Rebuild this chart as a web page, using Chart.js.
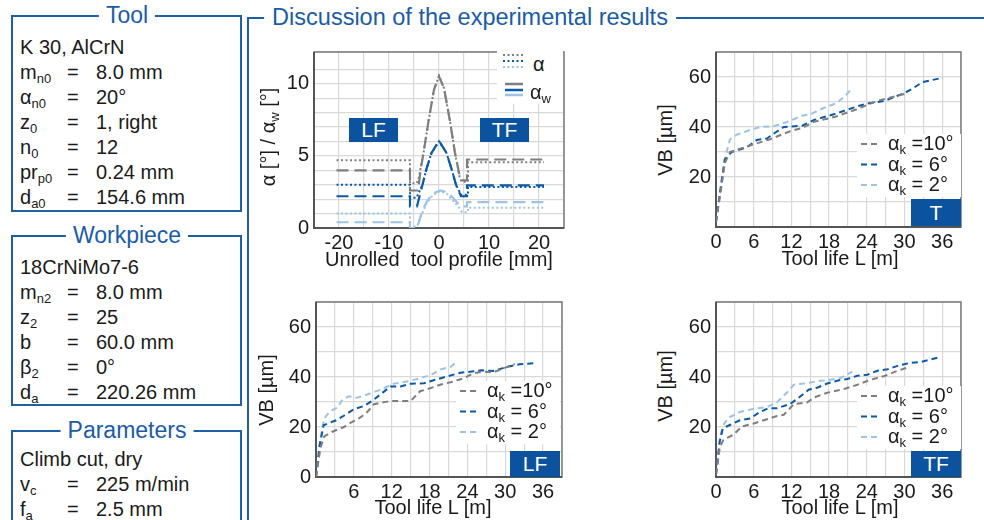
<!DOCTYPE html>
<html>
<head>
<meta charset="utf-8">
<script src="https://cdn.jsdelivr.net/npm/chart.js@4.4.0/dist/chart.umd.min.js"></script>
<style>
  body { margin:0; width:984px; height:520px; position:relative; overflow:hidden; background:#fff;
         font-family:"Liberation Sans", Arial, sans-serif; color:#1a1a1a; }
  canvas { position:absolute; }
  .box { position:absolute; border:2px solid #1f5fa8; box-sizing:border-box; }
  .btitle { position:absolute; background:#fff; color:#1b5ca8; font-size:23px; line-height:24px;
            padding:0 7px; transform:translate(-50%,-50%); white-space:nowrap; }
  .row { position:absolute; font-size:20px; line-height:24px; white-space:nowrap; }
  sub { font-size:13px; vertical-align:-4px; line-height:0; }
  .badge { position:absolute; background:#0b539e; color:#fff; font-size:21px; display:flex;
           align-items:center; justify-content:center; }
  .atitle { position:absolute; font-size:20px; line-height:22px; white-space:nowrap; transform:translate(-50%,-50%); }
  .ytitle { transform:translate(-50%,-50%) rotate(-90deg); }
  .leg { position:absolute; background:#fff; }
  .leg svg { position:absolute; left:0; top:0; }
  .leg span { position:absolute; font-size:20px; line-height:20px; white-space:nowrap; }
</style>
</head>
<body>

<!-- left panel -->
<div class="box" style="left:11px;top:15px;width:231px;height:197px"></div>
<div class="btitle" style="left:127px;top:15px">Tool</div>
<div class="box" style="left:11px;top:235px;width:231px;height:171px"></div>
<div class="btitle" style="left:127px;top:235px">Workpiece</div>
<div class="box" style="left:11px;top:430px;width:231px;height:120px"></div>
<div class="btitle" style="left:127px;top:430px">Parameters</div>
<div id="panel"></div>

<!-- discussion frame -->
<div class="box" style="left:247px;top:17px;width:760px;height:540px"></div>
<div class="btitle" style="left:470px;top:17px;font-size:23.5px;padding:0 8px">Discussion of the experimental results</div>

<canvas id="cA" width="310" height="225" style="left:260px;top:35px"></canvas>
<canvas id="cB" width="294" height="225" style="left:676px;top:35px"></canvas>
<canvas id="cC" width="310" height="225" style="left:262px;top:285px"></canvas>
<canvas id="cD" width="294" height="225" style="left:676px;top:285px"></canvas>

<div class="atitle ytitle" style="left:268px;top:137px">α [°] / α<sub>w</sub> [°]</div>
<div class="atitle" style="left:439px;top:259px">Unrolled&nbsp; tool profile [mm]</div>
<div class="atitle ytitle" style="left:665px;top:140px">VB [µm]</div>
<div class="atitle" style="left:840px;top:258px">Tool life L [m]</div>
<div class="atitle ytitle" style="left:266px;top:390px">VB [µm]</div>
<div class="atitle" style="left:433px;top:507px">Tool life L [m]</div>
<div class="atitle ytitle" style="left:665px;top:386px">VB [µm]</div>
<div class="atitle" style="left:840px;top:507px">Tool life L [m]</div>

<div class="badge" style="left:349px;top:118px;width:49px;height:24px">LF</div>
<div class="badge" style="left:480px;top:118px;width:49px;height:24px">TF</div>
<div class="badge" style="left:911px;top:199px;width:50px;height:27px">T</div>
<div class="badge" style="left:510px;top:451px;width:50px;height:26px">LF</div>
<div class="badge" style="left:911px;top:451px;width:50px;height:26px">TF</div>

<div id="legA" class="leg" style="left:497px;top:46px;width:66px;height:58px"></div>

<script>
// ---- left panel text ----
const toolRows = [['K 30, AlCrN'], ['m<sub>n0</sub>', '8.0 mm'], ['α<sub>n0</sub>', '20°'], ['z<sub>0</sub>', '1, right'],
                  ['n<sub>0</sub>', '12'], ['pr<sub>p0</sub>', '0.24 mm'], ['d<sub>a0</sub>', '154.6 mm']];
const workRows = [['18CrNiMo7-6'], ['m<sub>n2</sub>', '8.0 mm'], ['z<sub>2</sub>', '25'], ['b', '60.0 mm'],
                  ['β<sub>2</sub>', '0°'], ['d<sub>a</sub>', '220.26 mm']];
const paramRows = [['Climb cut, dry'], ['v<sub>c</sub>', '225 m/min'], ['f<sub>a</sub>', '2.5 mm']];

// ---- alpha along the unrolled tool profile ----
const aGrayX  = [-20.5, -5.8, -5.8, -4.5, -4.1, -3.1, -2.1, -1, 0, 1, 2.2, 3.2, 4.2, 4.6, 5.8, 5.8, 21];
const aGrayY  = [4.7, 4.7, 3.1, 3.1, 3.4, 5.2, 7.4, 9.6, 10.55, 9.7, 7.4, 5.2, 3.4, 3.2, 3.2, 4.55, 4.55];
const awGrayX = [-20.5, -5.8, -5.8, -4.2, -3.6, -3.1, -2.1, -1, 0, 1, 2.2, 3.2, 4.2, 4.6, 5.6, 5.6, 21];
const awGrayY = [4.0, 4.0, 2.6, 2.6, 4.2, 5.2, 7.4, 9.6, 10.5, 9.7, 7.4, 5.2, 3.5, 3.3, 3.3, 4.75, 4.75];
const aBlueX  = [-20.5, -5.8, -5.8, -4.5, -3.3, -2.5, -1.5, 0, 1.5, 2.5, 3.4, 4.4, 5.8, 5.8, 21];
const aBlueY  = [3.0, 3.0, 2.1, 2.1, 3.0, 4.1, 5.2, 6.0, 5.2, 4.1, 3.0, 2.3, 2.3, 2.85, 2.85];
const awBlueX = [-20.5, -5.8, -5.8, -4.4, -3.3, -2.5, -1.5, 0, 1.5, 2.5, 3.4, 4.4, 5.6, 5.6, 21];
const awBlueY = [2.2, 2.2, 1.5, 1.5, 3.0, 4.1, 5.2, 6.05, 5.2, 4.1, 3.0, 2.2, 2.2, 2.95, 2.95];
const aLightX  = [-20.5, -5.8, -5.8, -4.4, -3.5, -2.5, -1.2, 0.2, 1.5, 2.8, 3.8, 4.6, 5.8, 5.8, 21];
const aLightY  = [1.0, 1.0, 0.1, 0.1, 0.9, 1.7, 2.3, 2.55, 2.4, 1.9, 1.5, 1.1, 1.1, 1.4, 1.4];
const awLightX = [-20.5, -5.8, -5.8, -4.4, -3.5, -2.5, -1.2, 0.3, 1.5, 2.8, 3.8, 4.6, 5.6, 5.6, 21];
const awLightY = [0.4, 0.4, 0.0, 0.0, 1.0, 1.8, 2.4, 2.6, 2.5, 2.1, 1.7, 1.5, 1.5, 1.8, 1.8];
const profileTicks = [-20, -10, 0, 10, 20];
const alphaTicks = [0, 5, 10];

// ---- flank wear VB over tool life, T ----
const tX10 = [0, 0.9, 1.4, 2.2, 5.4, 8.6, 11.8, 13.7, 15.6, 19.0, 22.5, 25.7, 30.5];
const tY10 = [2, 17, 25.5, 30, 32.6, 35.1, 38.3, 39.6, 42.1, 44.1, 47.2, 50.5, 53.5];
const tX6  = [0, 0.8, 1.4, 2.5, 4.9, 6.5, 8.1, 9.4, 10.8, 13.7, 15.6, 19.0, 22.8, 24.1, 26.8, 30.0, 31.0, 32.9, 36.1];
const tY6  = [2, 17, 27, 30, 31.9, 34.8, 35.4, 37.7, 40, 40.5, 42.8, 45.3, 48.5, 49.4, 50.4, 53.6, 54.9, 58, 59.7];
const tX2  = [0, 0.9, 1.4, 2.2, 3.3, 5.4, 7.0, 9.2, 11.3, 13.7, 15.1, 17.2, 19.3, 20.4, 21.7];
const tY2  = [2, 17, 27, 35, 36.9, 38.8, 40, 40.3, 42, 44.5, 45.2, 47.7, 49.6, 52.2, 55.4];

// ---- LF ----
const lfX10 = [0, 0.7, 1.3, 2.6, 4.4, 5.7, 7.1, 8.1, 9.2, 10.2, 11.8, 15.0, 16.5, 18.2, 19.7, 21.8, 23.4, 25.0, 26.5, 28.1, 29.7, 31.5];
const lfY10 = [0, 11.6, 16.2, 18.1, 20.0, 22.0, 23.9, 25.9, 29.1, 29.7, 30.4, 30.4, 34.3, 35.6, 36.9, 38.2, 39.5, 41.5, 42.1, 41.9, 43.4, 45.2];
const lfX6  = [0, 0.6, 1.2, 1.8, 3.1, 4.4, 6.0, 7.6, 8.9, 10.2, 11.8, 13.4, 15.0, 17.1, 19.2, 21.0, 22.9, 24.4, 26.3, 28.1, 30.2, 32.3, 34.7];
const lfY6  = [0, 12.9, 20.7, 21.3, 22.6, 24.5, 27.1, 28.4, 30.4, 33.0, 36.2, 36.2, 37.3, 37.5, 39.1, 40.4, 41.7, 42.1, 42.7, 42.4, 44.0, 45.1, 45.6];
const lfX2  = [0, 0.7, 1.3, 2.1, 3.4, 4.2, 5.2, 6.5, 8.1, 10.2, 12.3, 14.4, 16.5, 18.2, 19.7, 21.3, 22.3];
const lfY2  = [0, 15.5, 23.3, 26.1, 27.8, 31.0, 32.3, 31.7, 33.0, 34.9, 37.3, 38.2, 39.5, 40.8, 43.0, 44.0, 46.0];

// ---- TF ----
const tfX10 = [0, 0.6, 1.2, 2.8, 4.1, 6.0, 7.6, 9.7, 10.8, 12.4, 14.5, 15.6, 17.7, 20.4, 22.5, 24.6, 26.8, 28.9, 30.8];
const tfY10 = [1, 11.8, 15.0, 16.9, 20.2, 21.4, 22.7, 24.4, 24.9, 29.2, 29.8, 31.8, 33.7, 35.2, 36.9, 38.9, 40.4, 42.5, 44.0];
const tfX6  = [0, 0.6, 1.1, 2.2, 3.8, 5.4, 7.0, 8.3, 9.7, 11.8, 12.9, 14.8, 16.1, 17.7, 19.6, 20.9, 22.5, 24.1, 25.7, 27.3, 29.2, 30.8, 32.6, 35.6];
const tfY6  = [1, 14.4, 19.5, 20.8, 22.7, 23.4, 26.0, 27.5, 27.5, 29.2, 31.2, 35.0, 35.7, 37.4, 38.7, 39.2, 40.5, 40.9, 42.5, 43.1, 44.7, 45.6, 46.0, 47.9];
const tfX2  = [0, 0.7, 1.3, 2.2, 3.8, 6.0, 8.1, 9.7, 11.3, 12.4, 14.0, 16.1, 18.2, 19.8, 21.7];
const tfY2  = [1, 16.9, 21.4, 24.0, 26.0, 27.3, 27.9, 29.9, 33.8, 36.9, 37.4, 38.3, 38.9, 39.6, 42.1];

const vbLabels = ['α_k =10°', 'α_k = 6°', 'α_k = 2°'];
const lifeTicks = [0, 6, 12, 18, 24, 30, 36];
const vbTicks = [20, 40, 60];

const colors = ['#7f7f7f', '#0b5aa8', '#9dc3e6'];
const tickFont = { size: 20, family: 'Liberation Sans' };

// left panel rows
const panel = document.getElementById('panel');
function addRows(rows, firstY) {
  rows.forEach((r, i) => {
    const y = firstY + i * 25 - 12;
    if (r.length === 1) {
      panel.insertAdjacentHTML('beforeend', `<div class="row" style="left:20px;top:${y}px">${r[0]}</div>`);
    } else {
      panel.insertAdjacentHTML('beforeend',
        `<div class="row" style="left:20px;top:${y}px">${r[0]}</div>` +
        `<div class="row" style="left:67px;top:${y}px">=</div>` +
        `<div class="row" style="left:96px;top:${y}px">${r[1]}</div>`);
    }
  });
}
addRows(toolRows, 47);
addRows(workRows, 267);
addRows(paramRows, 459);

const pts = (xs, ys) => xs.map((x, i) => ({ x: x, y: ys[i] }));

const frame = {
  id: 'frame',
  beforeDatasetsDraw(chart) {
    const { ctx, chartArea: a } = chart;
    ctx.save();
    ctx.strokeStyle = '#7a7a7a';
    ctx.lineWidth = 1.5;
    ctx.strokeRect(a.left, a.top, a.right - a.left, a.bottom - a.top);
    ctx.strokeStyle = '#555';
    ctx.lineWidth = 2;
    ctx.beginPath();
    ctx.moveTo(a.left, a.top);
    ctx.lineTo(a.left, a.bottom);
    ctx.lineTo(a.right, a.bottom);
    ctx.stroke();
    ctx.restore();
  }
};

function axes(xMin, xMax, xStep, xLabels, yMax, yStep, yLabels, yWidth, xHeight) {
  return {
    x: { type: 'linear', min: xMin, max: xMax,
         afterFit: s => { s.height = xHeight; },
         grid: { color: '#d9d9d9', lineWidth: 1.2, drawTicks: false },
         border: { display: false },
         ticks: { stepSize: xStep, autoSkip: false, maxRotation: 0, padding: 3, color: '#1a1a1a', font: tickFont,
                  callback: v => xLabels.includes(v) ? v : '' } },
    y: { min: 0, max: yMax,
         afterFit: s => { s.width = yWidth; },
         grid: { color: '#d9d9d9', lineWidth: 1.2, drawTicks: false },
         border: { display: false },
         ticks: { stepSize: yStep, autoSkip: false, padding: 5, color: '#1a1a1a', font: tickFont,
                  callback: v => yLabels.includes(v) ? v : '' } }
  };
}

const baseOpts = { responsive: false, animation: false, devicePixelRatio: 1,
  plugins: { legend: { display: false }, tooltip: { enabled: false } } };

// chart A: clearance angle along the profile
const dotted = (xs, ys, c) => ({ data: pts(xs, ys), borderColor: c, borderWidth: 2, borderDash: [2, 2.5], pointRadius: 0, tension: 0 });
const dashed = (xs, ys, c) => ({ data: pts(xs, ys), borderColor: c, borderWidth: 2.2, borderDash: [12, 6], pointRadius: 0, tension: 0 });
new Chart(document.getElementById('cA'), {
  type: 'line',
  data: { datasets: [
    dashed(awGrayX, awGrayY, colors[0]), dashed(awBlueX, awBlueY, colors[1]), dashed(awLightX, awLightY, colors[2]),
    dotted(aGrayX, aGrayY, colors[0]), dotted(aBlueX, aBlueY, colors[1]), dotted(aLightX, aLightY, colors[2])
  ] },
  options: Object.assign({}, baseOpts, {
    layout: { padding: { top: 10, right: 6, left: 0, bottom: 0 } },
    scales: axes(-25, 25, 5, profileTicks, 12.2, 1, alphaTicks, 54, 32)
  }),
  plugins: [frame]
});

function vbChart(id, sets, xLabels, yLabels, yWidth, padRight) {
  new Chart(document.getElementById(id), {
    type: 'line',
    data: { datasets: sets.map((s, i) => ({
      data: pts(s[0], s[1]), borderColor: colors[i], borderWidth: 2, borderDash: [6, 4],
      pointRadius: 0, tension: 0 })) },
    options: Object.assign({}, baseOpts, {
      layout: { padding: { top: 10, right: padRight, left: 0, bottom: 0 } },
      scales: axes(0, 39, 3, xLabels, 70, 10, yLabels, yWidth, 33)
    }),
    plugins: [frame]
  });
}
vbChart('cB', [[tX10, tY10], [tX6, tY6], [tX2, tY2]], lifeTicks, vbTicks, 40, 9);
vbChart('cC', [[lfX10, lfY10], [lfX6, lfY6], [lfX2, lfY2]], lifeTicks.slice(1), [0].concat(vbTicks), 54, 10);
vbChart('cD', [[tfX10, tfY10], [tfX6, tfY6], [tfX2, tfY2]], lifeTicks, vbTicks, 40, 9);

// legends
function vbLegend(left, top) {
  let svg = '<svg width="104" height="64">';
  let txt = '';
  vbLabels.forEach((lab, i) => {
    const y = 10 + i * 20.5;
    svg += `<line x1="4" y1="${y}" x2="23" y2="${y}" stroke="${colors[i]}" stroke-width="2" stroke-dasharray="6 4"/>`;
    txt += `<span style="left:31px;top:${y - 11}px">${lab.replace('_k', '<sub>k</sub>')}</span>`;
  });
  svg += '</svg>';
  document.body.insertAdjacentHTML('beforeend',
    `<div class="leg" style="left:${left}px;top:${top}px;width:104px;height:63px">${svg}${txt}</div>`);
}
vbLegend(857, 134);
vbLegend(456, 381);
vbLegend(857, 386);

(function () {
  let svg = '<svg width="66" height="58">';
  [9, 15, 21].forEach((y, i) => {
    svg += `<line x1="6" y1="${y}" x2="26" y2="${y}" stroke="${colors[i]}" stroke-width="2" stroke-dasharray="2 2.5"/>`;
  });
  [38, 44, 49].forEach((y, i) => {
    svg += `<line x1="8" y1="${y}" x2="26" y2="${y}" stroke="${colors[i]}" stroke-width="2.5"/>`;
  });
  svg += '</svg>';
  document.getElementById('legA').innerHTML = svg +
    '<span style="left:36px;top:8px">α</span><span style="left:33px;top:36px">α<sub>w</sub></span>';
})();
</script>
</body>
</html>
